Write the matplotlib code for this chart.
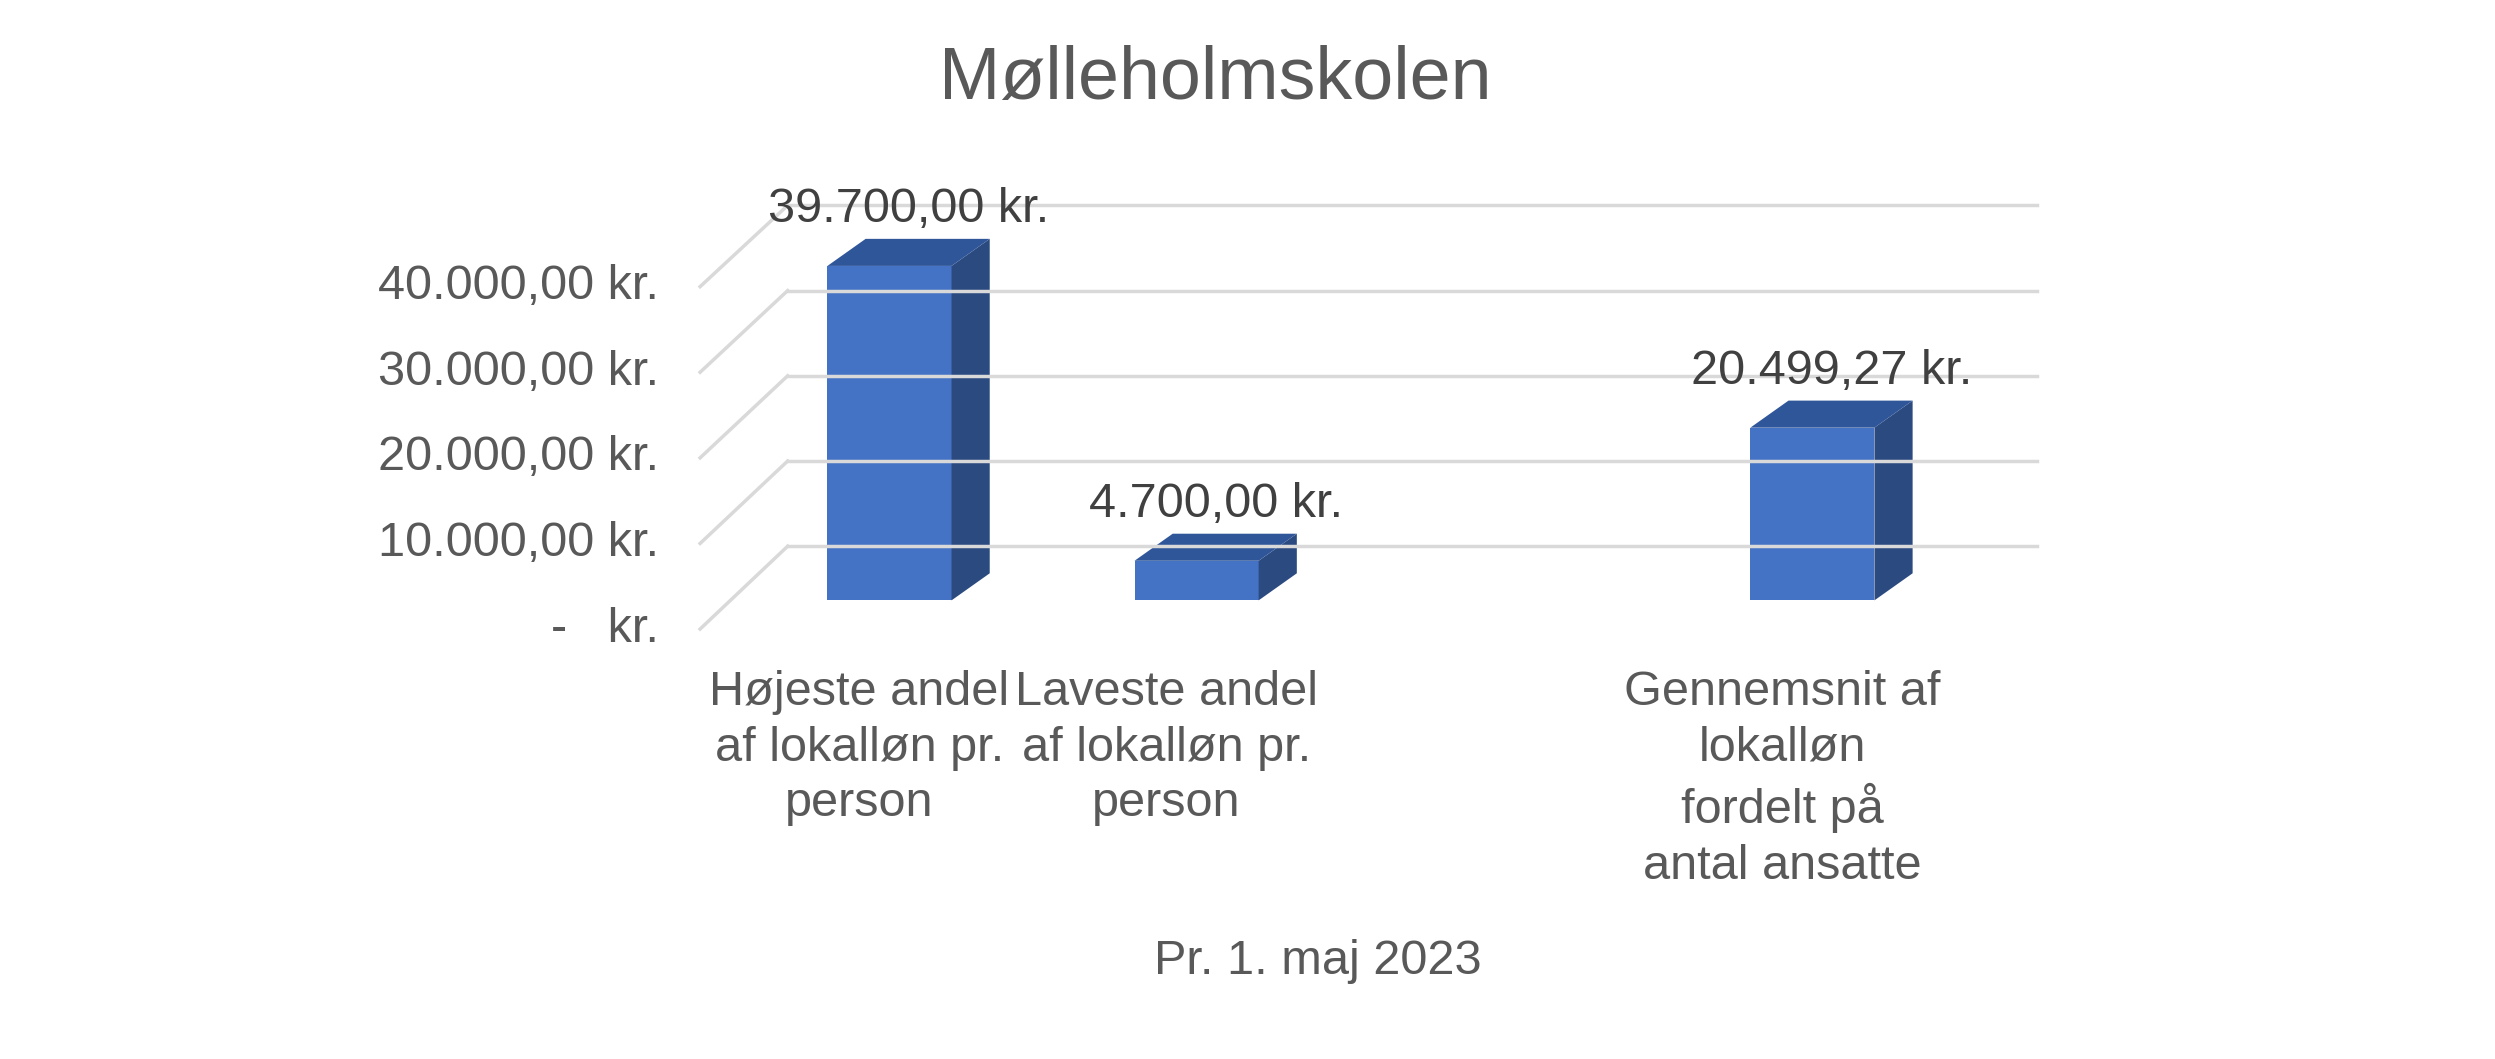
import matplotlib
matplotlib.use('Agg')
import matplotlib.pyplot as plt
from matplotlib.patches import Polygon

title = "Mølleholmskolen"
xlabel = "Pr. 1. maj 2023"
categories = ["Højeste andel\naf lokalløn pr.\nperson",
              "Laveste andel\naf lokalløn pr.\nperson",
              "Gennemsnit af\nlokalløn\nfordelt på\nantal ansatte"]
values = [39700.00, 4700.00, 20499.27]
value_labels = ["39.700,00 kr.", "4.700,00 kr.", "20.499,27 kr."]
ticks = [0, 10000, 20000, 30000, 40000]
tick_labels = ["-   kr.", "10.000,00 kr.", "20.000,00 kr.", "30.000,00 kr.", "40.000,00 kr."]

FONT = "Liberation Sans"
GREY = "#595959"
W, H = 1568, 665

fig = plt.figure(figsize=(24.95, 10.59), dpi=100)
ax = fig.add_axes([0, 0, 1, 1])
ax.set_xlim(0, W)
ax.set_ylim(H, 0)
ax.axis('off')

# pixel scales of the 3D frame
def y_front(v):
    return 395 - v * 215 / 40000

def y_back(v):
    return 343 - v * 214 / 40000

def y_bar(v):
    return 377 - v * 211.6 / 40000

# gridlines: left wall diagonals and back wall
for v, lab in zip(ticks, tick_labels):
    ax.plot([440, 495], [y_front(v), y_back(v)], color="#d9d9d9", lw=2.5)
    ax.plot([495, 1280], [y_back(v), y_back(v)], color="#d9d9d9", lw=2.5)
    ax.text(414, y_front(v), lab, ha='right', va='center', fontsize=35,
            color=GREY, family=FONT)

bar_left = [520, 713, 1100]
bw, dx, dy = 78, 24, -17
for x0, v, lab, cat in zip(bar_left, values, value_labels, categories):
    yb, yt = 377, y_bar(v)
    ax.add_patch(Polygon([(x0, yb), (x0 + bw, yb), (x0 + bw, yt), (x0, yt)],
                         closed=True, fc="#4472c4", ec="none"))
    ax.add_patch(Polygon([(x0 + bw, yb), (x0 + bw + dx, yb + dy), (x0 + bw + dx, yt + dy),
                          (x0 + bw, yt)], closed=True, fc="#2b4a80", ec="none"))
    ax.add_patch(Polygon([(x0, yt), (x0 + bw, yt), (x0 + bw + dx, yt + dy), (x0 + dx, yt + dy)],
                         closed=True, fc="#30569a", ec="none"))
    ax.text(x0 + bw / 2 + dx / 2, yt + dy - 4, lab, ha='center', va='bottom',
            fontsize=35, color="#404040", family=FONT)
    ax.text(x0 + 20, 421, cat, ha='center', va='top', fontsize=35, color=GREY,
            family=FONT, linespacing=1.3)

ax.text(764, 50, title, ha='center', va='center', fontsize=53, color=GREY, family=FONT)
ax.text(828, 604, xlabel, ha='center', va='center', fontsize=35, color=GREY, family=FONT)

fig.savefig("out.png", dpi=100)
